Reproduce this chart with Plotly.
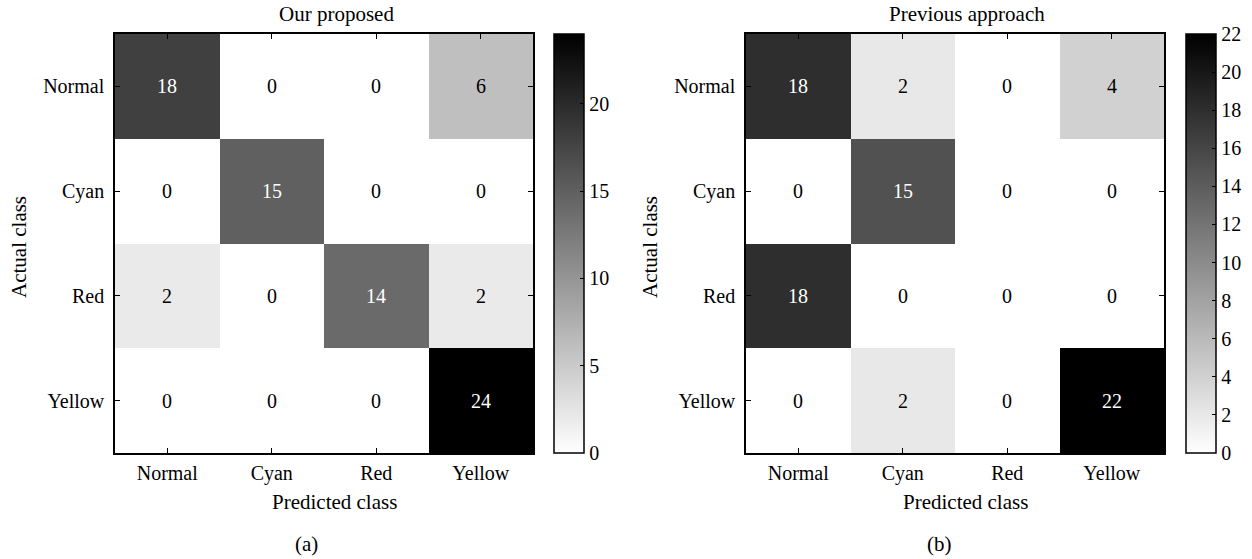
import plotly.graph_objects as go

# ---- data ----
classes = ["Normal", "Cyan", "Red", "Yellow"]
proposed = [[18, 0, 0, 6],
            [0, 15, 0, 0],
            [2, 0, 14, 2],
            [0, 0, 0, 24]]
previous = [[18, 2, 0, 4],
            [0, 15, 0, 0],
            [18, 0, 0, 0],
            [0, 2, 0, 22]]
proposed_cbar_ticks = [0, 5, 10, 15, 20]
previous_cbar_ticks = [0, 2, 4, 6, 8, 10, 12, 14, 16, 18, 20, 22]
titles = ["Our proposed", "Previous approach"]
panel_labels = ["(a)", "(b)"]
x_title = "Predicted class"
y_title = "Actual class"

# ---- layout helpers ----
W, H = 1252, 559
FONT = "Liberation Serif, Times New Roman, serif"
TICK_SIZE = 20
LABEL_SIZE = 21


def px(x):
    return x / W


def py(y):
    return 1 - y / H


panels = [
    dict(z=proposed, ticks=proposed_cbar_ticks, left=115, right=533, cbar=554,
         title=titles[0], label=panel_labels[0], label_x=306, xa="x", ya="y"),
    dict(z=previous, ticks=previous_cbar_ticks, left=746, right=1164, cbar=1186,
         title=titles[1], label=panel_labels[1], label_x=939, xa="x2", ya="y2"),
]
top, bottom = 34, 453

fig = go.Figure()
annotations = []
for i, p in enumerate(panels):
    zmax = max(max(r) for r in p["z"])
    fig.add_trace(go.Heatmap(
        z=p["z"], x=classes, y=classes,
        xaxis=p["xa"], yaxis=p["ya"],
        zmin=0, zmax=zmax,
        colorscale=[[0, "#ffffff"], [1, "#000000"]],
        hoverinfo="skip",
        colorbar=dict(
            x=px(p["cbar"]), xanchor="left", xpad=0, ypad=0,
            y=py((top + bottom) / 2), yanchor="middle",
            lenmode="pixels", len=bottom - top,
            thicknessmode="pixels", thickness=30,
            outlinewidth=1.5, outlinecolor="black",
            ticks="inside", ticklen=4, tickcolor="black",
            tickvals=p["ticks"],
            tickfont=dict(family=FONT, size=TICK_SIZE, color="black"),
        ),
    ))
    for r, row in enumerate(p["z"]):
        for c, v in enumerate(row):
            annotations.append(dict(
                x=classes[c], y=classes[r], xref=p["xa"], yref=p["ya"],
                text=str(v), showarrow=False,
                font=dict(family=FONT, size=TICK_SIZE,
                          color="white" if v / zmax > 0.5 else "black"),
            ))
    cx = (p["left"] + p["right"]) / 2 + 12
    annotations += [
        dict(x=px(cx), y=py(14), xref="paper", yref="paper", text=p["title"],
             showarrow=False, xanchor="center", yanchor="middle",
             font=dict(family=FONT, size=LABEL_SIZE, color="black")),
        dict(x=px(cx - 2), y=py(502), xref="paper", yref="paper", text=x_title,
             showarrow=False, xanchor="center", yanchor="middle",
             font=dict(family=FONT, size=LABEL_SIZE, color="black")),
        dict(x=px(p["left"] - 96), y=py(247), xref="paper", yref="paper",
             text=y_title, textangle=-90,
             showarrow=False, xanchor="center", yanchor="middle",
             font=dict(family=FONT, size=LABEL_SIZE, color="black")),
        dict(x=px(p["label_x"]), y=py(544), xref="paper", yref="paper",
             text=p["label"], borderpad=0,
             showarrow=False, xanchor="center", yanchor="middle",
             font=dict(family=FONT, size=LABEL_SIZE, color="black")),
    ]

axis_common = dict(
    showline=True, linecolor="black", linewidth=1.5, mirror="ticks",
    ticks="inside", ticklen=5, tickcolor="black", tickwidth=1,
    showgrid=False, zeroline=False, fixedrange=True,
    tickfont=dict(family=FONT, size=TICK_SIZE, color="black"),
)

layout_axes = {}
for i, p in enumerate(panels):
    sfx = "" if i == 0 else "2"
    layout_axes["xaxis" + sfx] = dict(
        axis_common, domain=[px(p["left"]), px(p["right"])],
        range=[-0.5, 3.5], anchor="y" + sfx, ticklabelstandoff=1,
        type="category", categoryorder="array", categoryarray=classes)
    layout_axes["yaxis" + sfx] = dict(
        axis_common, domain=[py(bottom), py(top)],
        range=[3.5, -0.5], anchor="x" + sfx, ticklabelstandoff=5,
        type="category", categoryorder="array", categoryarray=classes)

fig.update_layout(
    width=W, height=H,
    margin=dict(l=0, r=0, t=0, b=0, pad=0, autoexpand=False),
    paper_bgcolor="white", plot_bgcolor="white",
    font=dict(family=FONT, color="black"),
    annotations=annotations,
    showlegend=False,
    **layout_axes,
)

fig.write_html(
    "out.html",
    config={"displayModeBar": False},
    post_script="document.body.style.margin='0';document.body.style.overflow='hidden';",
)
